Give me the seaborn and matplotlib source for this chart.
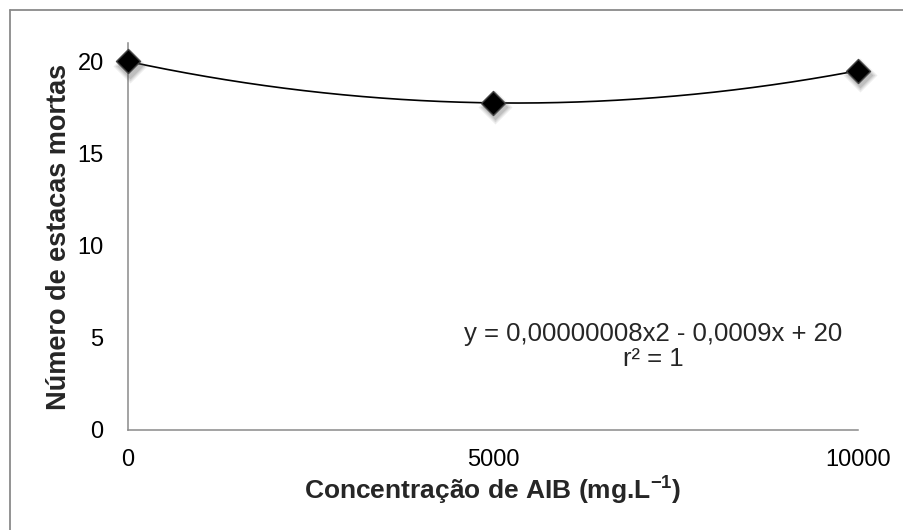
import numpy as np
import pandas as pd
import matplotlib
matplotlib.use("Agg")
import matplotlib.pyplot as plt
import matplotlib.transforms as mtransforms
from matplotlib.lines import Line2D
import seaborn as sns

# Data: AIB concentration vs. number of dead cuttings
concentracao = [0, 5000, 10000]
estacas_mortas = [20.0, 17.75, 19.5]
x_ticks = [0, 5000, 10000]
y_ticks = [0, 5, 10, 15, 20]
equacao = "y = 0,00000008x2 - 0,0009x + 20"
r2_texto = "r² = 1"

sns.set_theme(style="white")
plt.rcParams["font.family"] = ["Liberation Sans", "DejaVu Sans"]

W, H = 904, 530
df = pd.DataFrame({"x": concentracao, "y": estacas_mortas})

# Second-order polynomial trend line through the observations
coef = np.polyfit(df["x"], df["y"], 2)
xs = np.linspace(min(concentracao), max(concentracao), 300)
curva = pd.DataFrame({"x": xs, "y": np.polyval(coef, xs)})

fig = plt.figure(figsize=(W / 100, H / 100), dpi=100)
ax = fig.add_axes([128 / W, 1 - 430 / H, 730 / W, 387 / H])

sns.lineplot(data=curva, x="x", y="y", ax=ax, color="black", lw=1.2, zorder=2)

# soft drop shadow under the markers (a few stacked translucent layers)
for ms, a in [(17, 0.10), (15, 0.14), (13, 0.18)]:
    sh = mtransforms.offset_copy(ax.transData, fig=fig, x=1.5, y=-3.0, units="points")
    ax.plot(df["x"], df["y"], linestyle="none", marker="D", ms=ms, color="#555555",
            alpha=a, mec="none", transform=sh, zorder=3, clip_on=False)

sns.scatterplot(data=df, x="x", y="y", ax=ax, marker="D", s=150, color="black",
                edgecolor="#444444", linewidth=1.0, zorder=4, clip_on=False)

ax.set_xlim(0, 10000)
ax.set_ylim(0, 21)
ax.set_xticks(x_ticks)
ax.set_yticks(y_ticks)
ax.set_xticklabels([str(v) for v in x_ticks])
ax.set_yticklabels([str(v) for v in y_ticks])

for side in ["top", "right"]:
    ax.spines[side].set_visible(False)
for side in ["left", "bottom"]:
    ax.spines[side].set_color("#8a8a8a")
    ax.spines[side].set_linewidth(1.1)
ax.tick_params(axis="both", which="major", direction="out", length=5.5, width=1.1,
               color="#8a8a8a", labelsize=17, labelcolor="black")
ax.tick_params(axis="x", pad=8)
ax.tick_params(axis="y", pad=12)

ax.set_xlabel("Concentração de AIB (mg.L$^{\\mathregular{-1}}$)", fontsize=19,
              fontweight="bold", labelpad=2)
ax.set_ylabel("Número de estacas mortas", fontsize=19.5, fontweight="bold", labelpad=4)

ax.text(0.72, 0.248, equacao, transform=ax.transAxes, ha="center", va="center",
        fontsize=18.5)
ax.text(0.72, 0.183, r2_texto, transform=ax.transAxes, ha="center", va="center",
        fontsize=18.5)

# chart frame (left and top edges)
fr = dict(color="#8a8a8a", lw=1.3, transform=fig.transFigure)
fig.add_artist(Line2D([9.5 / W, 9.5 / W], [0, 1 - 9.5 / H], **fr))
fig.add_artist(Line2D([9.5 / W, 1], [1 - 9.5 / H, 1 - 9.5 / H], **fr))

fig.savefig("out.png", dpi=100)
